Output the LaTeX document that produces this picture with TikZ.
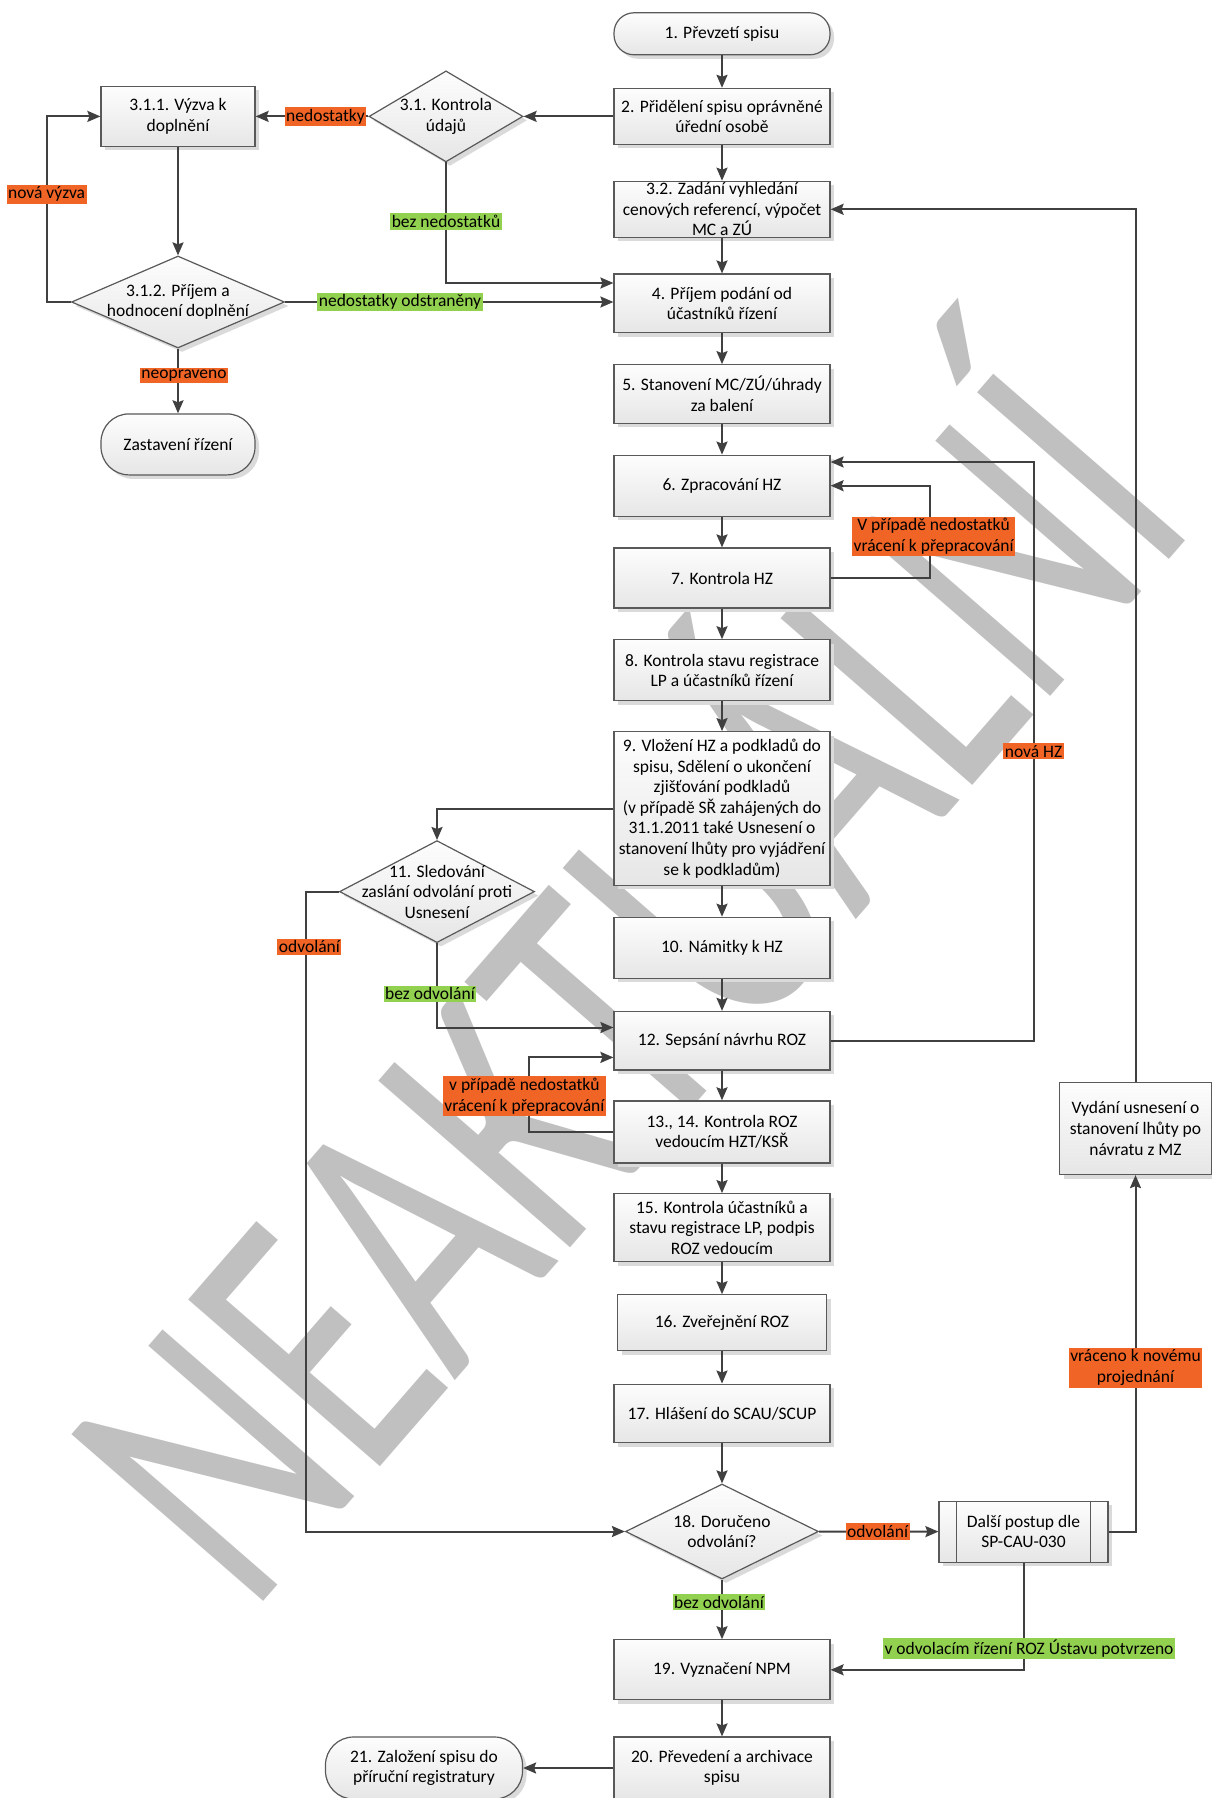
\documentclass[tikz,border=0pt]{standalone}
\usepackage{fontspec}
\setmainfont{Carlito}
\usetikzlibrary{shapes.geometric,arrows.meta,shadows,calc}
\definecolor{wm}{RGB}{192,192,192}
\definecolor{lineC}{RGB}{64,64,64}
\definecolor{borderC}{RGB}{89,89,89}
\definecolor{orangeC}{RGB}{240,100,38}
\definecolor{greenC}{RGB}{146,208,80}
\definecolor{boxTop}{RGB}{253,253,253}
\definecolor{boxBot}{RGB}{230,230,230}
\definecolor{shadowC}{RGB}{218,218,218}
\begin{document}
\begin{tikzpicture}[x=1pt,y=-1pt,
  every node/.style={font=\fontsize{17.5pt}{20.6pt}\selectfont, align=center},
  base/.style={draw=borderC, line width=1.2pt, top color=boxTop, bottom color=boxBot,
    drop shadow={shadow xshift=4pt, shadow yshift=-4pt, fill=shadowC, opacity=1}, inner sep=0pt},
  procbox/.style={base, rectangle, minimum width=216},
  sidebox/.style={base, rectangle, minimum width=154},
  terminal/.style={base, rectangle, rounded corners=#1},
  decision/.style={base, diamond},
  dtext/.style={inner sep=0pt},
  conn/.style={draw=lineC, line width=2pt, -{Stealth[length=13pt,width=11pt,inset=2pt]}},
  lab/.style={inner xsep=1.5pt, inner ysep=2pt, text=black},
  olab/.style={lab, fill=orangeC},
  glab/.style={lab, fill=greenC}
]
\useasboundingbox (0,0) rectangle (1211,1798);
\fill[white] (0,0) rectangle (1211,1798);

% watermark
\node[anchor=base west, rotate=49, xscale=0.7, text=wm, inner sep=0pt,
  font=\fontsize{396pt}{396pt}\selectfont] (wmark) at (250,1617) {NEAKTUÁLNÍ};

% main column
\node[terminal=20, minimum width=216, minimum height=42] (n1) at (722,33.8) {1. Převzetí spisu};
\node[procbox, minimum height=56] (n2) at (722,116.4) {2. Přidělení spisu oprávněné\\úřední osobě};
\node[procbox, minimum height=56] (n32) at (722,209.3) {3.2. Zadání vyhledání\\cenových referencí, výpočet\\MC a ZÚ};
\node[procbox, minimum height=58.5] (n4) at (722,303.3) {4. Příjem podání od\\účastníků řízení};
\node[procbox, minimum height=58.5] (n5) at (722,394) {5. Stanovení MC/ZÚ/úhrady\\za balení};
\node[procbox, minimum height=61] (n6) at (722,485.7) {6. Zpracování HZ};
\node[procbox, minimum height=60] (n7) at (722,578) {7. Kontrola HZ};
\node[procbox, minimum height=61] (n8) at (722,670.3) {8. Kontrola stavu registrace\\LP a účastníků řízení};
\node[procbox, minimum height=153.6] (n9) at (722,808.5) {9. Vložení HZ a podkladů do\\spisu, Sdělení o ukončení\\zjišťování podkladů\\(v případě SŘ zahájených do\\31.1.2011 také Usnesení o\\stanovení lhůty pro vyjádření\\se k podkladům)};
\node[procbox, minimum height=61] (n10) at (722,947.8) {10. Námitky k HZ};
\node[procbox, minimum height=58.5] (n12) at (722,1040.7) {12. Sepsání návrhu ROZ};
\node[procbox, minimum height=62] (n13) at (722,1131.9) {13., 14. Kontrola ROZ\\vedoucím HZT/KSŘ};
\node[procbox, minimum height=68] (n15) at (722,1227.7) {15. Kontrola účastníků a\\stavu registrace LP, podpis\\ROZ vedoucím};
\node[base, rectangle, minimum width=209, minimum height=56] (n16) at (722,1322.8) {16. Zveřejnění ROZ};
\node[procbox, minimum height=58.5] (n17) at (722,1413.4) {17. Hlášení do SCAU/SCUP};
\node[decision, minimum width=193, minimum height=95,
  label={[dtext]center:{18. Doručeno\\odvolání?}}] (d18) at (722,1531.5) {};
\node[procbox, minimum height=60] (n19) at (722,1669.8) {19. Vyznačení NPM};
\node[procbox, minimum height=62] (n20) at (722,1768) {20. Převedení a archivace\\spisu};
\node[terminal=28, minimum width=197, minimum height=62] (n21) at (424,1768) {21. Založení spisu do\\příruční registratury};

% left part
\node[decision, minimum width=154, minimum height=91,
  label={[dtext]center:{3.1. Kontrola\\údajů}}] (d31) at (446,116.4) {};
\node[sidebox, minimum height=60] (b311) at (178,116.4) {3.1.1. Výzva k\\doplnění};
\node[decision, minimum width=213, minimum height=92,
  label={[dtext]center:{3.1.2. Příjem a\\hodnocení doplnění}}] (d312) at (178,302) {};
\node[terminal=28, minimum width=154, minimum height=61] (zast) at (178,444.4) {Zastavení řízení};
\node[decision, minimum width=195, minimum height=102,
  label={[dtext]center:{11. Sledování\\zaslání odvolání proti\\Usnesení}}] (d11) at (437,891.6) {};

% right part
\node[base, rectangle, minimum width=152, minimum height=92] (vyd) at (1135.5,1128.5) {Vydání usnesení o\\stanovení lhůty po\\návratu z MZ};
\node[base, rectangle, minimum width=169, minimum height=61] (dalsi) at (1023.5,1531.6) {Další postup dle\\SP-CAU-030};
\draw[draw=borderC, line width=1.2pt] ([xshift=18pt]dalsi.north west) -- ([xshift=18pt]dalsi.south west);
\draw[draw=borderC, line width=1.2pt] ([xshift=-18pt]dalsi.north east) -- ([xshift=-18pt]dalsi.south east);

% main flow
\foreach \a/\b in {n1/n2, n2/n32, n32/n4, n4/n5, n5/n6, n6/n7, n7/n8, n8/n9, n9/n10,
  n10/n12, n12/n13, n13/n15, n15/n16, n16/n17, n17/d18, n19/n20}
  \draw[conn] (\a) -- (\b);

% left connectors
\draw[conn] (n2.west) -- (d31.east);
\draw[conn] (d31.west) -- node[olab, pos=0.38] {nedostatky} (b311.east);
\draw[conn] (d31.south) |- node[glab, pos=0.245] {bez nedostatků} ([yshift=20.3pt]n4.west);
\draw[conn] (b311) -- (d312);
\draw[conn] (d312.east) -- node[glab, pos=0.35] {nedostatky odstraněny} (n4.west |- d312.east);
\draw[conn] (d312.west) -- ++(-24.3,0) |- node[olab, pos=0.29] {nová výzva} (b311.west);
\draw[conn] (d312.south) -- node[olab, pos=0.42, xshift=6pt] {neopraveno} (zast.north);

% loops on the right
\draw[conn] (vyd.north) |- (n32.east);
\draw[conn] (n12.east) -- ++(203,0) |- node[olab, pos=0.25] {nová HZ} ([yshift=23.7pt]n6.east);
\draw[conn] (n7.east) -- ++(99,0) |- node[olab, pos=0.225, xshift=4pt] {V případě nedostatků\\vrácení k přepracování} (n6.east);

% middle
\draw[conn] (n9.west) -| (d11.north);
\draw[conn] (d11.south) |- node[glab, pos=0.3, xshift=-7pt] {bez odvolání} ([yshift=13.2pt]n12.west);
\draw[conn] (n13.west) -- ++(-84,0) |- node[olab, pos=0.24, xshift=-5pt] {v případě nedostatků\\vrácení k přepracování} ([yshift=-16.7pt]n12.west);
\draw[conn] (d11.west) -- ++(-32.5,0) |- node[olab, pos=0.043, xshift=3pt] {odvolání} (d18.west);

% bottom
\draw[conn] (d18.east) -- node[olab, pos=0.49] {odvolání} (dalsi.west);
\draw[conn] (dalsi.east) -| node[olab, pos=0.73] {vráceno k novému\\projednání} (vyd.south);
\draw[conn] (dalsi.south) |- node[glab, pos=0.4, xshift=5.5pt] {v odvolacím řízení ROZ Ústavu potvrzeno} (n19.east);
\draw[conn] (d18.south) -- node[glab, pos=0.38, xshift=-3pt] {bez odvolání} (n19.north);
\draw[conn] (n20.west) -- (n21.east);
\end{tikzpicture}
\end{document}
